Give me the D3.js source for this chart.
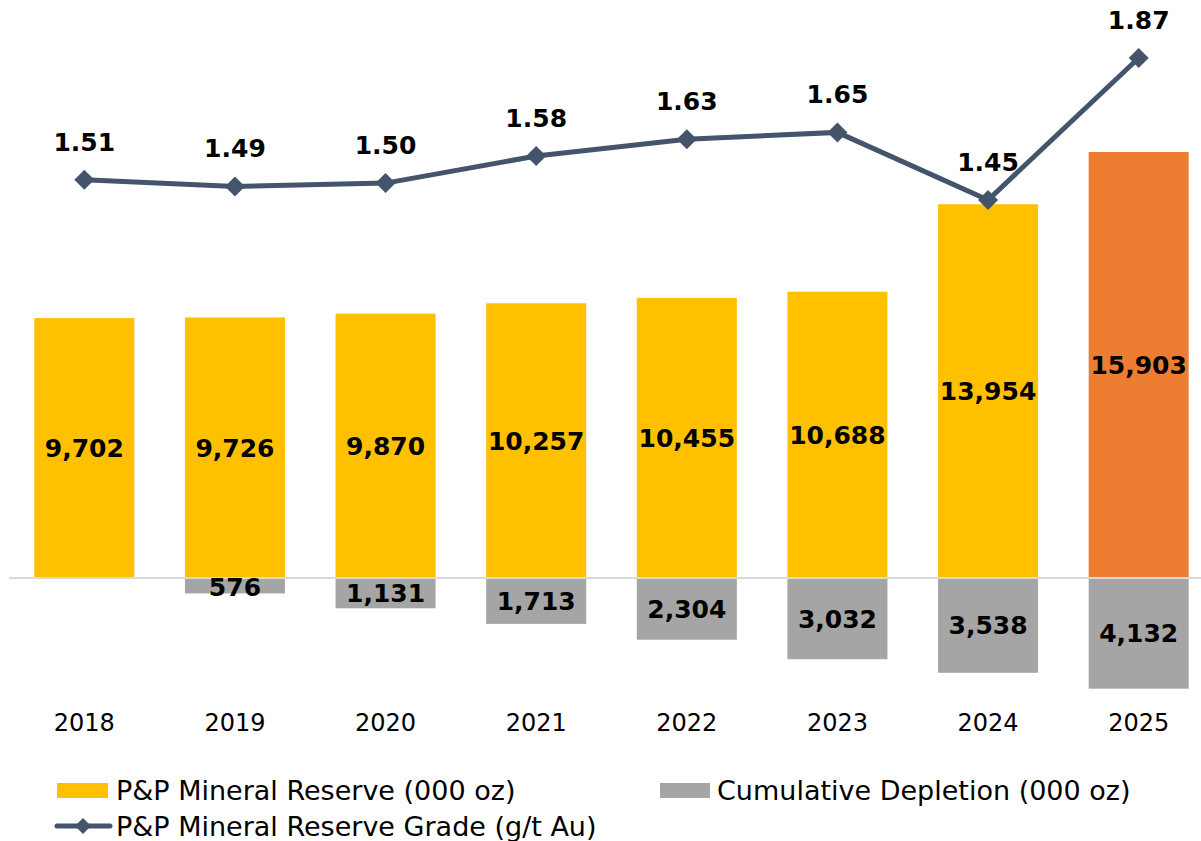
<!DOCTYPE html>
<html>
<head>
<meta charset="utf-8">
<script src="https://cdn.jsdelivr.net/npm/d3@7"></script>
<style>
  body { margin: 0; background: #fff; }
  text { font-family: "DejaVu Sans", "Noto Sans", sans-serif; }
</style>
</head>
<body>
<div id="main"></div>
<script>
// DATA
const years = ['2018', '2019', '2020', '2021', '2022', '2023', '2024', '2025']
const reserve = [9702, 9726, 9870, 10257, 10455, 10688, 13954, 15903]
const depletion = [0, 576, 1131, 1713, 2304, 3032, 3538, 4132]
const grade = [1.51, 1.49, 1.50, 1.58, 1.63, 1.65, 1.45, 1.87]

// COLORS
const yellow = '#FFC000'
const orange = '#ED7D31'
const grey = '#A5A5A5'
const slate = '#44546A'

let width = 1201
let height = 841
let baseY = 578

let svg = d3.select('#main').append('svg')
    .attr('width', width)
    .attr('height', height)

// SCALES
let x = d3.scaleBand()
    .domain(years)
    .range([9, 1214])
    .paddingInner(0.336)
    .paddingOuter(0.168)

// 000 oz -> px above the zero line
let y = d3.scaleLinear()
    .domain([0, 15903])
    .range([baseY, 152])

let yGrade = d3.scaleLinear()
    .domain([1.45, 1.87])
    .range([200, 58])

const fmt = d3.format(',')
const cx = (d, i) => x(years[i]) + x.bandwidth() / 2

// zero line
svg.append('line')
    .attr('x1', 9).attr('x2', 1201)
    .attr('y1', baseY).attr('y2', baseY)
    .attr('stroke', '#D9D9D9')
    .attr('stroke-width', 2)

// reserve bars
svg.selectAll('rect.reserve')
    .data(reserve)
    .enter().append('rect')
        .attr('class', 'reserve')
        .attr('x', (d, i) => x(years[i]))
        .attr('width', x.bandwidth())
        .attr('y', d => y(d))
        .attr('height', d => baseY - y(d) - 1)
        .attr('fill', (d, i) => i == years.length - 1 ? orange : yellow)

// depletion bars (negative)
svg.selectAll('rect.depl')
    .data(depletion)
    .enter().append('rect')
        .attr('class', 'depl')
        .attr('x', (d, i) => x(years[i]))
        .attr('width', x.bandwidth())
        .attr('y', baseY + 1)
        .attr('height', d => d > 0 ? Math.max(0, y(0) - y(d) - 1) : 0)
        .attr('fill', grey)

// bar labels
svg.selectAll('text.rlab')
    .data(reserve)
    .enter().append('text')
        .attr('class', 'rlab')
        .attr('x', cx)
        .attr('y', d => (y(d) + baseY) / 2)
        .attr('dy', '0.36em')
        .attr('text-anchor', 'middle')
        .attr('font-size', 25)
        .attr('font-weight', 'bold')
        .text(d => fmt(d))

svg.selectAll('text.dlab')
    .data(depletion)
    .enter().append('text')
        .attr('class', 'dlab')
        .attr('x', cx)
        .attr('y', d => Math.max(baseY + 9, baseY + (y(0) - y(d)) / 2))
        .attr('dy', '0.36em')
        .attr('text-anchor', 'middle')
        .attr('font-size', 25)
        .attr('font-weight', 'bold')
        .text(d => d > 0 ? fmt(d) : '')

// x labels
svg.selectAll('text.xlab')
    .data(years)
    .enter().append('text')
        .attr('class', 'xlab')
        .attr('x', d => x(d) + x.bandwidth() / 2)
        .attr('y', 731)
        .attr('text-anchor', 'middle')
        .attr('font-size', 24)
        .attr('fill', '#000')
        .text(d => d)

// grade line
let line = d3.line()
    .x(cx)
    .y(d => yGrade(d))

svg.append('path')
    .datum(grade)
    .attr('d', line)
    .attr('fill', 'none')
    .attr('stroke', slate)
    .attr('stroke-width', 5)

svg.selectAll('path.mark')
    .data(grade)
    .enter().append('path')
        .attr('class', 'mark')
        .attr('transform', (d, i) => `translate(${cx(d, i)},${yGrade(d)}) rotate(45)`)
        .attr('d', d3.symbol().type(d3.symbolSquare).size(200))
        .attr('fill', slate)

svg.selectAll('text.glab')
    .data(grade)
    .enter().append('text')
        .attr('class', 'glab')
        .attr('x', cx)
        .attr('y', d => yGrade(d) - 29)
        .attr('text-anchor', 'middle')
        .attr('font-size', 25)
        .attr('font-weight', 'bold')
        .text(d => d.toFixed(2))

// LEGEND
let legend = svg.append('g').attr('font-size', 27)

legend.append('rect').attr('x', 57).attr('y', 783).attr('width', 51).attr('height', 15).attr('fill', yellow)
legend.append('text').attr('x', 116).attr('y', 800).text('P&P Mineral Reserve (000 oz)')

legend.append('rect').attr('x', 660).attr('y', 783).attr('width', 50).attr('height', 15).attr('fill', grey)
legend.append('text').attr('x', 717).attr('y', 800).text('Cumulative Depletion (000 oz)')

legend.append('line').attr('x1', 57).attr('x2', 110).attr('y1', 826).attr('y2', 826)
    .attr('stroke', slate).attr('stroke-width', 5).attr('stroke-linecap', 'round')
legend.append('path')
    .attr('transform', 'translate(83,826) rotate(45)')
    .attr('d', d3.symbol().type(d3.symbolSquare).size(130))
    .attr('fill', slate)
legend.append('text').attr('x', 116).attr('y', 836).text('P&P Mineral Reserve Grade (g/t Au)')
</script>
</body>
</html>
